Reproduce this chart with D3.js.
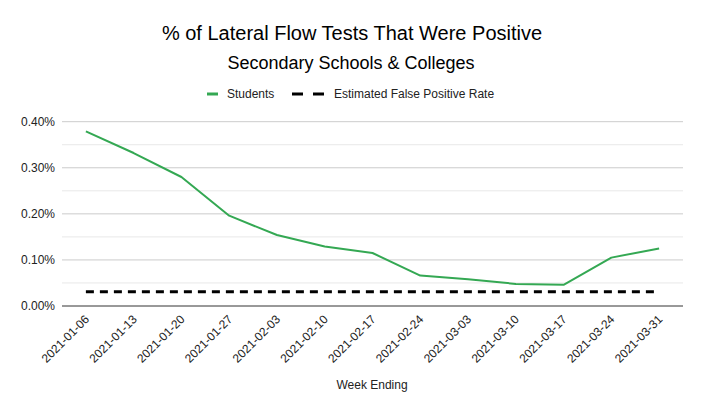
<!DOCTYPE html>
<html><head><meta charset="utf-8">
<script src="https://cdn.jsdelivr.net/npm/d3@7"></script>
<style>body{margin:0;background:#fff;}text{font-family:"Liberation Sans",Arial,sans-serif;}</style>
</head><body><svg id="c" width="703" height="415"></svg>
<script>
const weeks = ["2021-01-06","2021-01-13","2021-01-20","2021-01-27","2021-02-03","2021-02-10","2021-02-17","2021-02-24","2021-03-03","2021-03-10","2021-03-17","2021-03-24","2021-03-31"];
const students = [0.379,0.332,0.280,0.196,0.154,0.129,0.115,0.066,0.058,0.048,0.046,0.105,0.125];
const falsePositive = [0.031,0.031,0.031,0.031,0.031,0.031,0.031,0.031,0.031,0.031,0.031,0.031,0.031];
const yTicks = [0,0.1,0.2,0.3,0.4];
const yGrid = [0.05,0.15,0.25,0.35];

const svg = d3.select("#c");
const m = {l:62, r:683, t:121.7, b:306};
const x = d3.scaleBand().domain(weeks).range([m.l, m.r]);
const cx = d => x(d) + x.bandwidth()/2;
const y = d3.scaleLinear().domain([0,0.4]).range([m.b, m.t]);

svg.append("rect").attr("width",703).attr("height",415).attr("fill","#fff");

// titles
svg.append("text").attr("x",352).attr("y",40).attr("text-anchor","middle").attr("font-size",20).attr("fill","#000").text("% of Lateral Flow Tests That Were Positive");
svg.append("text").attr("x",351).attr("y",69).attr("text-anchor","middle").attr("font-size",18).attr("fill","#000").text("Secondary Schools & Colleges");

// legend
const lg = svg.append("g");
lg.append("line").attr("x1",207).attr("x2",218).attr("y1",94).attr("y2",94).attr("stroke","#34a853").attr("stroke-width",3);
lg.append("text").attr("x",227).attr("y",98).attr("font-size",12).attr("fill","#222").text("Students");
lg.append("line").attr("x1",292).attr("x2",325).attr("y1",94).attr("y2",94).attr("stroke","#000").attr("stroke-width",3).attr("stroke-dasharray","11,10");
lg.append("text").attr("x",334).attr("y",98).attr("font-size",12).attr("fill","#222").text("Estimated False Positive Rate");

// grid
svg.append("g").selectAll("line").data(yGrid).join("line")
  .attr("x1",m.l).attr("x2",m.r).attr("y1",d=>y(d)).attr("y2",d=>y(d))
  .attr("stroke","#e8e8e8").attr("stroke-width",1);
svg.append("g").selectAll("line").data(yTicks.filter(d=>d>0)).join("line")
  .attr("x1",m.l).attr("x2",m.r).attr("y1",d=>y(d)).attr("y2",d=>y(d))
  .attr("stroke","#cccccc").attr("stroke-width",1);

// y axis labels
const yAxis = d3.axisLeft(y).tickValues(yTicks).tickSize(0).tickPadding(7).tickFormat(d=>d.toFixed(2)+"%");
const ya = svg.append("g").attr("transform",`translate(${m.l},0)`).call(yAxis);
ya.select(".domain").remove();
ya.selectAll("text").attr("font-size",12).attr("fill","#222").attr("font-family","Liberation Sans, Arial, sans-serif");

// series
const line = d3.line().x((d,i)=>cx(weeks[i])).y(d=>y(d));
svg.append("path").datum(falsePositive).attr("d",line).attr("fill","none").attr("stroke","#000").attr("stroke-width",3).attr("stroke-dasharray","8,6");
svg.append("path").datum(students).attr("d",line).attr("fill","none").attr("stroke","#34a853").attr("stroke-width",2).attr("stroke-linejoin","round");

// baseline
svg.append("line").attr("x1",m.l).attr("x2",m.r).attr("y1",m.b).attr("y2",m.b).attr("stroke","#333").attr("stroke-width",1);

// x axis labels
const xAxis = d3.axisBottom(x).tickSize(0).tickPadding(0);
const xa = svg.append("g").attr("transform",`translate(0,${m.b})`).call(xAxis);
xa.select(".domain").remove();
xa.selectAll("text").attr("font-size",12).attr("fill","#222").attr("font-family","Liberation Sans, Arial, sans-serif")
  .attr("text-anchor","end").attr("dy",null).attr("y",0)
  .attr("transform","translate(4,14) rotate(-45)");

svg.append("text").attr("x",372).attr("y",389).attr("text-anchor","middle").attr("font-size",12).attr("fill","#222").text("Week Ending");
</script></body></html>
